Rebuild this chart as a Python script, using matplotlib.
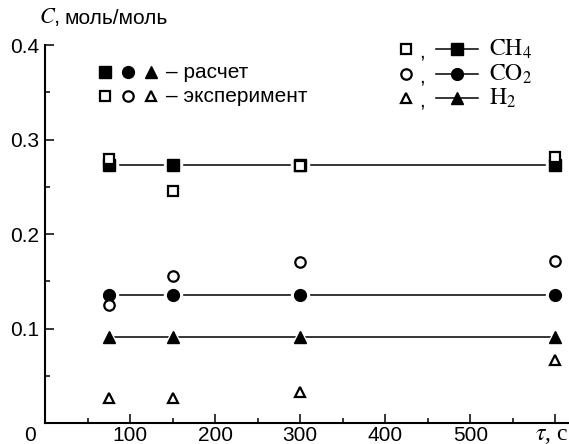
import matplotlib
matplotlib.use("Agg")
import matplotlib.pyplot as plt
from matplotlib.ticker import MultipleLocator

plt.rcParams['font.family'] = ['Liberation Sans', 'DejaVu Sans']
plt.rcParams['mathtext.fontset'] = 'stix'

# time, s
tau = [75, 150, 300, 600]

# calculated (filled markers, lines)
ch4_calc = [0.273, 0.273, 0.273, 0.273]
co2_calc = [0.135, 0.135, 0.135, 0.135]
h2_calc = [0.0905, 0.0905, 0.0905, 0.0905]

# experiment (open markers)
ch4_exp = [0.279, 0.246, 0.272, 0.281]
co2_exp = [0.125, 0.156, 0.170, 0.171]
h2_exp = [0.026, 0.026, 0.033, 0.067]

x_ticks = [100, 200, 300, 400, 500, 600]
x_ticklabels = ['100', '200', '300', '400', '500', '']
y_ticks = [0.1, 0.2, 0.3, 0.4]
y_ticklabels = ['0.1', '0.2', '0.3', '0.4']

W, H = 569, 444
fig = plt.figure(figsize=(W / 100, H / 100), dpi=100)
ax = fig.add_axes([45 / W, 1 - 423 / H, (W - 45) / W, (423 - 45) / H])
ax.set_xlim(0, 616)
ax.set_ylim(0, 0.4)

for s in ['top', 'right']:
    ax.spines[s].set_visible(False)
for s in ['left', 'bottom']:
    ax.spines[s].set_linewidth(1.5)

ax.set_xticks(x_ticks)
ax.set_xticklabels(x_ticklabels)
ax.set_yticks(y_ticks)
ax.set_yticklabels(y_ticklabels)
ax.xaxis.set_minor_locator(MultipleLocator(50))
ax.yaxis.set_minor_locator(MultipleLocator(0.05))
ax.tick_params(which='both', direction='in', width=1.1, labelsize=15)
ax.tick_params(axis='x', pad=2)
ax.tick_params(axis='y', pad=4)
ax.tick_params(which='major', length=6.5)
ax.tick_params(which='minor', length=3.6)

msize = 8.5
halo = 13
calc = [(ch4_calc, 's'), (co2_calc, 'o'), (h2_calc, '^')]
exp = [(ch4_exp, 's'), (co2_exp, 'o'), (h2_exp, '^')]

for vals, m in calc:
    ax.plot(tau, vals, color='black', lw=1.1, zorder=2)
    ax.plot(tau, vals, ls='none', marker=m, ms=halo, mfc='white', mec='white', zorder=3)
    ax.plot(tau, vals, ls='none', marker=m, ms=msize, mfc='black', mec='black', zorder=4)

for vals, m in exp:
    ax.plot(tau, vals, ls='none', marker=m, ms=msize - 1, mfc='white', mec='black',
            mew=1.6, zorder=5)

# axis labels
fig.text(30 / W, 1 - 435 / H, '0', fontsize=15, ha='center', va='center')
fig.text(568 / W, 1 - 435 / H, r'$\tau$, c', fontsize=17, ha='right', va='center',
         family=['Liberation Serif'])
fig.text(39 / W, 1 - 17 / H, r'$C$,', fontsize=16, ha='left', va='center')
fig.text(64 / W, 1 - 18 / H, 'моль/моль', fontsize=15, ha='left', va='center')

# legend, left
leg_markers = ['s', 'o', '^']
for k, m in enumerate(leg_markers):
    xm = (105 + 23 * k) / W
    fig.add_artist(plt.Line2D([xm], [1 - 72 / H], ls='none', marker=m, ms=msize,
                              mfc='black', mec='black', transform=fig.transFigure))
    fig.add_artist(plt.Line2D([xm], [1 - 96 / H], ls='none', marker=m, ms=msize - 1,
                              mfc='white', mec='black', mew=1.6, transform=fig.transFigure))
fig.text(166 / W, 1 - 72 / H, '– расчет', fontsize=15, ha='left', va='center')
fig.text(166 / W, 1 - 96 / H, '– эксперимент', fontsize=15, ha='left', va='center')

# legend, right
names = [r'$\mathrm{CH}_4$', r'$\mathrm{CO}_2$', r'$\mathrm{H}_2$']
rows = [49, 74, 98]
for m, name, yr in zip(leg_markers, names, rows):
    fy = 1 - yr / H
    fig.add_artist(plt.Line2D([406 / W], [fy], ls='none', marker=m, ms=msize - 1,
                              mfc='white', mec='black', mew=1.6, transform=fig.transFigure))
    fig.text(419 / W, fy - 0.006, ',', fontsize=15, ha='left', va='center')
    fig.add_artist(plt.Line2D([436 / W, 478 / W], [fy, fy], color='black', lw=1.1,
                              transform=fig.transFigure))
    fig.add_artist(plt.Line2D([457 / W], [fy], ls='none', marker=m, ms=msize,
                              mfc='black', mec='black', transform=fig.transFigure))
    fig.text(489 / W, fy, name, fontsize=17, ha='left', va='center')

fig.savefig('out.png', dpi=100)
